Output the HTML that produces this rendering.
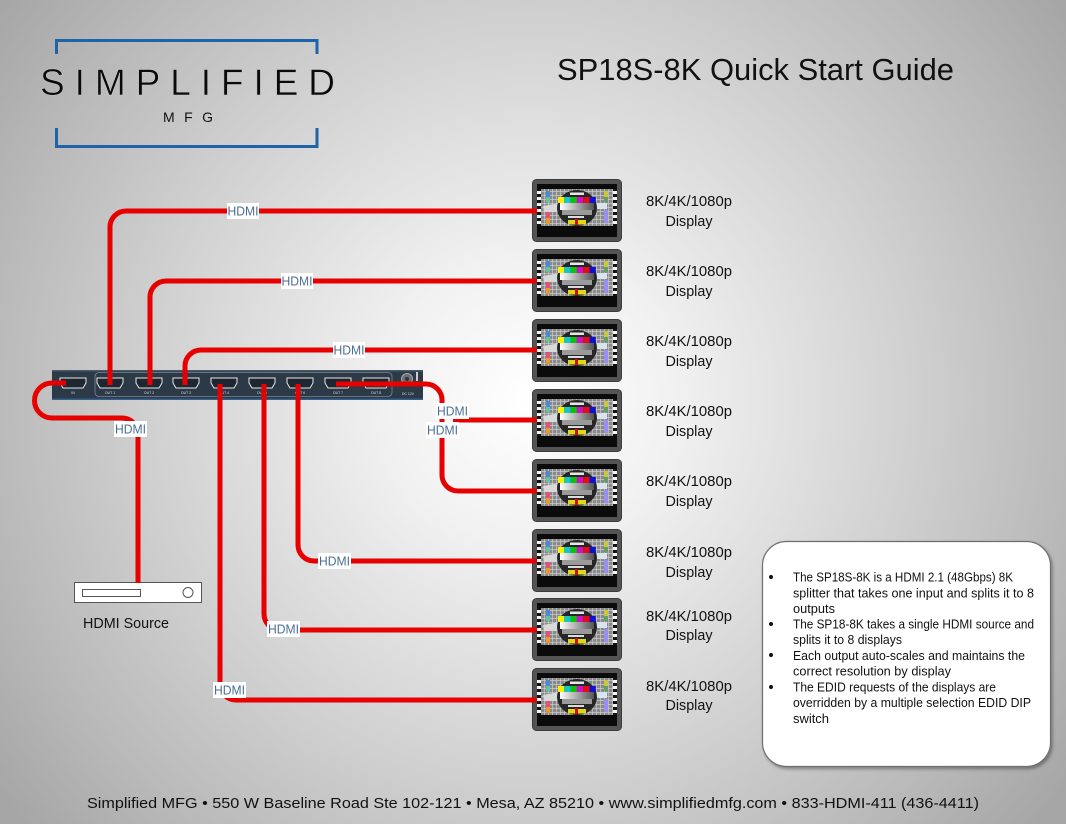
<!DOCTYPE html>
<html><head><meta charset="utf-8"><style>
html,body{margin:0;padding:0;width:1066px;height:824px;overflow:hidden;background:#c8c8c8}
svg{display:block}
</style></head><body>
<svg width="1066" height="824" viewBox="0 0 1066 824" xmlns="http://www.w3.org/2000/svg" font-family="'Liberation Sans', sans-serif">
<defs>
<radialGradient id="bg" gradientUnits="userSpaceOnUse" cx="530" cy="400" r="660">
<stop offset="0" stop-color="#ffffff"/>
<stop offset="0.22" stop-color="#f1f1f1"/>
<stop offset="0.55" stop-color="#d3d3d3"/>
<stop offset="0.85" stop-color="#b6b6b6"/>
<stop offset="1" stop-color="#a6a6a6"/>
</radialGradient>
<pattern id="grid" width="4" height="4" patternUnits="userSpaceOnUse"><rect width="4" height="4" fill="#8a8a8a"/><path d="M0 0.3H4M0.3 0V4" stroke="#d4d4d4" stroke-width="0.6"/></pattern>
<pattern id="chk" width="4" height="6" patternUnits="userSpaceOnUse"><rect width="4" height="6" fill="#111"/><rect width="4" height="3" fill="#f4f4f4"/></pattern>
<linearGradient id="ramp" x1="0" x2="1"><stop offset="0" stop-color="#fff"/><stop offset="1" stop-color="#555"/></linearGradient>
<filter id="sh" x="-10%" y="-10%" width="125%" height="125%"><feDropShadow dx="1.5" dy="2" stdDeviation="1.5" flood-color="#000" flood-opacity="0.35"/></filter>
<symbol id="tv" viewBox="0 0 90 63">
<rect x="0.5" y="0.5" width="89" height="62" rx="4" fill="#545454" stroke="#3c3c3c"/>
<rect x="5" y="5" width="80" height="53" fill="#0b0b0b"/>
<rect x="9" y="10" width="72" height="37" fill="url(#grid)"/>
<rect x="5" y="10" width="4" height="37" fill="url(#chk)"/>
<rect x="81" y="10" width="4" height="37" fill="url(#chk)"/>
<rect x="14" y="12" width="4" height="6" fill="#4a8ad8"/>
<rect x="14" y="18" width="4" height="5" fill="#5cc7a0"/>
<rect x="14" y="33" width="4" height="6" fill="#e8507a"/>
<rect x="14" y="39" width="4" height="6" fill="#e89a30"/>
<rect x="72" y="12" width="4" height="6" fill="#c8c840"/>
<rect x="72" y="18" width="4" height="5" fill="#60a060"/>
<rect x="72" y="31" width="4" height="13" fill="#9a8ff0"/>
<rect x="63" y="24" width="12" height="6" fill="#d8e4ee"/>
<path d="M11 27 L28 24 L28 33 L12 33 Z" fill="#d9d9d9"/>
<ellipse cx="45" cy="29" rx="20" ry="18" fill="#262626"/>
<rect x="38" y="13.5" width="14" height="2.5" fill="#e6e6e6"/>
<rect x="26" y="18" width="6.3" height="6" fill="#f4f000"/>
<rect x="32.3" y="18" width="6.3" height="6" fill="#12c8c8"/>
<rect x="38.6" y="18" width="6.3" height="6" fill="#10c010"/>
<rect x="44.9" y="18" width="6.3" height="6" fill="#d010c8"/>
<rect x="51.2" y="18" width="6.3" height="6" fill="#e01010"/>
<rect x="57.5" y="18" width="6.3" height="6" fill="#1010d0"/>
<rect x="28" y="24" width="34" height="7" fill="url(#ramp)"/>
<rect x="30" y="31" width="30" height="5" fill="#9a9a9a"/>
<rect x="36" y="37" width="16" height="2" fill="#ddd"/>
<rect x="36" y="41" width="18" height="4.5" fill="#e0d818"/>
<rect x="43" y="40" width="3" height="6" fill="#d01010"/>
</symbol>
</defs>

<rect width="1066" height="824" fill="url(#bg)"/>

<!-- Logo -->
<g stroke="#1f63a8" stroke-width="3" fill="none">
<path d="M56.5 54 V40.5 H317 V54"/>
<path d="M56.5 128 V146.5 H317 V128"/>
</g>
<text x="40" y="95" font-size="37" fill="#0a0a0a" stroke="#c9c9c9" stroke-width="0.5" textLength="295" lengthAdjust="spacing">SIMPLIFIED</text>
<text x="163" y="122" font-size="14" fill="#111" textLength="50" lengthAdjust="spacing">MFG</text>

<!-- Title -->
<text x="557" y="80" font-size="31" fill="#111" textLength="397" lengthAdjust="spacingAndGlyphs">SP18S-8K Quick Start Guide</text>

<!-- Displays -->
<use href="#tv" x="532" y="179" width="90" height="63"/>
<use href="#tv" x="532" y="249" width="90" height="63"/>
<use href="#tv" x="532" y="319" width="90" height="63"/>
<use href="#tv" x="532" y="389" width="90" height="63"/>
<use href="#tv" x="532" y="459" width="90" height="63"/>
<use href="#tv" x="532" y="529" width="90" height="63"/>
<use href="#tv" x="532" y="598" width="90" height="63"/>
<use href="#tv" x="532" y="668" width="90" height="63"/>

<g font-size="15" fill="#111" text-anchor="middle">
<text x="689" y="206" textLength="86" lengthAdjust="spacingAndGlyphs">8K/4K/1080p</text><text x="689" y="226" textLength="47" lengthAdjust="spacingAndGlyphs">Display</text>
<text x="689" y="276" textLength="86" lengthAdjust="spacingAndGlyphs">8K/4K/1080p</text><text x="689" y="296" textLength="47" lengthAdjust="spacingAndGlyphs">Display</text>
<text x="689" y="346" textLength="86" lengthAdjust="spacingAndGlyphs">8K/4K/1080p</text><text x="689" y="366" textLength="47" lengthAdjust="spacingAndGlyphs">Display</text>
<text x="689" y="416" textLength="86" lengthAdjust="spacingAndGlyphs">8K/4K/1080p</text><text x="689" y="436" textLength="47" lengthAdjust="spacingAndGlyphs">Display</text>
<text x="689" y="486" textLength="86" lengthAdjust="spacingAndGlyphs">8K/4K/1080p</text><text x="689" y="506" textLength="47" lengthAdjust="spacingAndGlyphs">Display</text>
<text x="689" y="557" textLength="86" lengthAdjust="spacingAndGlyphs">8K/4K/1080p</text><text x="689" y="577" textLength="47" lengthAdjust="spacingAndGlyphs">Display</text>
<text x="689" y="621" textLength="86" lengthAdjust="spacingAndGlyphs">8K/4K/1080p</text><text x="689" y="640" textLength="47" lengthAdjust="spacingAndGlyphs">Display</text>
<text x="689" y="691" textLength="86" lengthAdjust="spacingAndGlyphs">8K/4K/1080p</text><text x="689" y="710" textLength="47" lengthAdjust="spacingAndGlyphs">Display</text>
</g>

<!-- Splitter -->
<rect x="52" y="370" width="371" height="30" fill="#2c3947"/>
<rect x="52" y="370" width="371" height="1.5" fill="#4a5766"/>
<rect x="52" y="398.5" width="371" height="1.5" fill="#33608f"/>
<rect x="95" y="372.5" width="297" height="24" rx="4" fill="none" stroke="#7d8894" stroke-width="0.8"/>
<g fill="#1d2631" stroke="#e8e8e8" stroke-width="1">
<path d="M60 378 h26 v5 l-3 5 h-20 l-3 -5 z"/>
<path d="M97 378 h26 v5 l-3 5 h-20 l-3 -5 z"/>
<path d="M136 378 h26 v5 l-3 5 h-20 l-3 -5 z"/>
<path d="M173 378 h26 v5 l-3 5 h-20 l-3 -5 z"/>
<path d="M211 378 h26 v5 l-3 5 h-20 l-3 -5 z"/>
<path d="M249 378 h26 v5 l-3 5 h-20 l-3 -5 z"/>
<path d="M287 378 h26 v5 l-3 5 h-20 l-3 -5 z"/>
<path d="M325 378 h26 v5 l-3 5 h-20 l-3 -5 z"/>
<path d="M363 378 h26 v5 l-3 5 h-20 l-3 -5 z"/>
</g>
<g font-size="3.5" fill="#dde" text-anchor="middle">
<text x="73" y="394">IN</text><text x="110" y="394">OUT 1</text><text x="149" y="394">OUT 2</text><text x="186" y="394">OUT 3</text><text x="224" y="394">OUT 4</text><text x="262" y="394">OUT 5</text><text x="300" y="394">OUT 6</text><text x="338" y="394">OUT 7</text><text x="376" y="394">OUT 8</text>
<text x="408" y="395">DC 12V</text>
</g>
<circle cx="407" cy="379" r="5.5" fill="#6a6f75" stroke="#aaa" stroke-width="1"/>
<circle cx="407" cy="379" r="2" fill="#333"/>
<rect x="416" y="372" width="2" height="9" fill="#ccc"/>

<!-- HDMI Source -->
<rect x="74.5" y="582.5" width="127" height="20" fill="#fff" stroke="#555" stroke-width="1"/>
<rect x="82.5" y="589.5" width="58" height="7" fill="#fff" stroke="#555" stroke-width="1"/>
<circle cx="188" cy="592.5" r="5" fill="#fff" stroke="#555" stroke-width="1"/>
<text x="83" y="628" font-size="15" fill="#111" textLength="86" lengthAdjust="spacingAndGlyphs">HDMI Source</text>

<!-- Cables -->
<g fill="none" stroke="#e60000" stroke-width="5" stroke-linejoin="round">
<path d="M110 385 V227 A16 16 0 0 1 126 211 H537"/>
<path d="M150 385 V297 A16 16 0 0 1 166 281 H537"/>
<path d="M185 385 V366 A16 16 0 0 1 201 350 H537"/>
<path d="M220 384 V684 A16 16 0 0 0 236 700 H537"/>
<path d="M264 384 V614 A16 16 0 0 0 280 630 H537"/>
<path d="M298 384 V545 A16 16 0 0 0 314 561 H537"/>
<path d="M336 384 H426 A16 16 0 0 1 442 400 V475 A16 16 0 0 0 458 491 H537"/>
<path d="M453 420 H537"/>
<path d="M66 383 H52 A17.5 17.5 0 0 0 52 418 H122 A16 16 0 0 1 138 434 V583"/>
</g>

<!-- HDMI labels -->
<g fill="#ffffff">
<rect x="227" y="203" width="32" height="16"/>
<rect x="281" y="273" width="32" height="16"/>
<rect x="333" y="342" width="32" height="16"/>
<rect x="114" y="421" width="33" height="16"/>
<rect x="436" y="403" width="33" height="16"/>
<rect x="426" y="422" width="33" height="16"/>
<rect x="318" y="553" width="33" height="16"/>
<rect x="267" y="621" width="33" height="16"/>
<rect x="213" y="682" width="33" height="16"/>
</g>
<g font-size="12.5" fill="#4a6f96" text-anchor="middle">
<text x="243" y="215.5" textLength="31" lengthAdjust="spacingAndGlyphs">HDMI</text>
<text x="297" y="285.5" textLength="31" lengthAdjust="spacingAndGlyphs">HDMI</text>
<text x="349" y="354.5" textLength="31" lengthAdjust="spacingAndGlyphs">HDMI</text>
<text x="130.5" y="433.5" textLength="31" lengthAdjust="spacingAndGlyphs">HDMI</text>
<text x="452.5" y="415.5" textLength="31" lengthAdjust="spacingAndGlyphs">HDMI</text>
<text x="442.5" y="434.5" textLength="31" lengthAdjust="spacingAndGlyphs">HDMI</text>
<text x="334.5" y="565.5" textLength="31" lengthAdjust="spacingAndGlyphs">HDMI</text>
<text x="283.5" y="633.5" textLength="31" lengthAdjust="spacingAndGlyphs">HDMI</text>
<text x="229.5" y="694.5" textLength="31" lengthAdjust="spacingAndGlyphs">HDMI</text>
</g>

<!-- Info box -->
<rect x="762.5" y="541.5" width="288" height="225" rx="24" fill="#ffffff" stroke="#6e6e6e" stroke-width="1.2" filter="url(#sh)"/>
<g fill="#111">
<circle cx="771" cy="577" r="2"/>
<circle cx="771" cy="624" r="2"/>
<circle cx="771" cy="655" r="2"/>
<circle cx="771" cy="687" r="2"/>
</g>
<g font-size="12.5" fill="#111">
<text x="793" y="581.5" textLength="220" lengthAdjust="spacingAndGlyphs">The SP18S-8K is a HDMI 2.1 (48Gbps) 8K</text>
<text x="793" y="597.5" textLength="241" lengthAdjust="spacingAndGlyphs">splitter that takes one input and splits it to 8</text>
<text x="793" y="613" textLength="42" lengthAdjust="spacingAndGlyphs">outputs</text>
<text x="793" y="628.5" textLength="241" lengthAdjust="spacingAndGlyphs">The SP18-8K takes a single HDMI source and</text>
<text x="793" y="644" textLength="109" lengthAdjust="spacingAndGlyphs">splits it to 8 displays</text>
<text x="793" y="660" textLength="232" lengthAdjust="spacingAndGlyphs">Each output auto-scales and maintains the</text>
<text x="793" y="675.5" textLength="158" lengthAdjust="spacingAndGlyphs">correct resolution by display</text>
<text x="793" y="691.5" textLength="203" lengthAdjust="spacingAndGlyphs">The EDID requests of the displays are</text>
<text x="793" y="707" textLength="238" lengthAdjust="spacingAndGlyphs">overridden by a multiple selection EDID DIP</text>
<text x="793" y="723" textLength="36" lengthAdjust="spacingAndGlyphs">switch</text>
</g>

<!-- Footer -->
<text x="87" y="808" font-size="15" fill="#111" textLength="892" lengthAdjust="spacingAndGlyphs">Simplified MFG • 550 W Baseline Road Ste 102-121 • Mesa, AZ 85210 • www.simplifiedmfg.com • 833-HDMI-411 (436-4411)</text>
</svg>
</body></html>
